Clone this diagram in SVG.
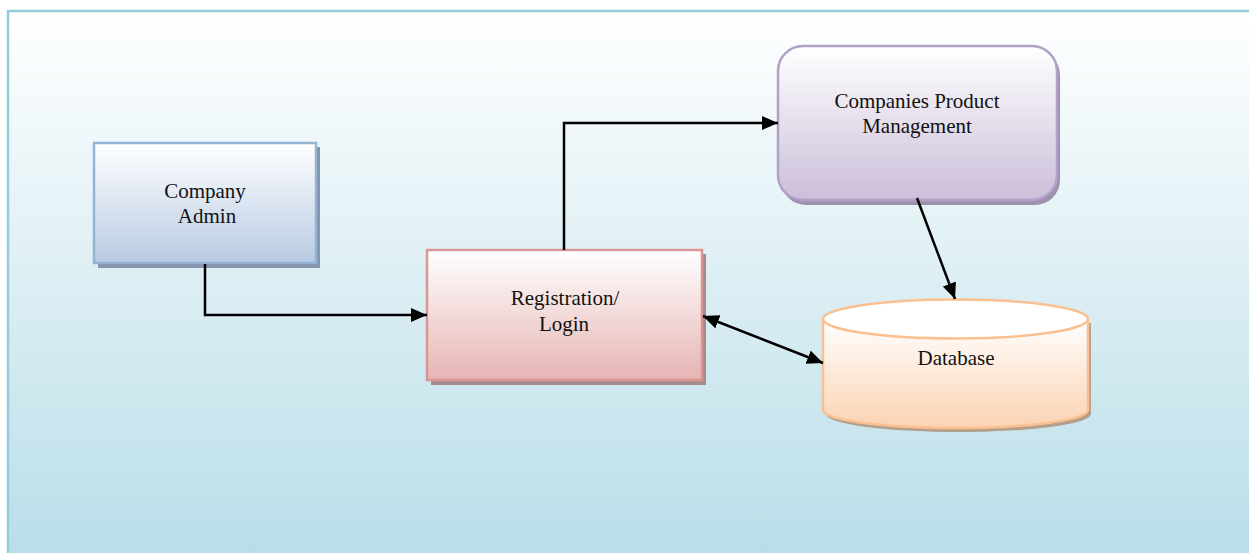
<svg xmlns="http://www.w3.org/2000/svg" width="1249" height="553" viewBox="0 0 1249 553">
  <defs>
    <linearGradient id="bg" x1="0" y1="0" x2="0" y2="1">
      <stop offset="0" stop-color="#ffffff"/>
      <stop offset="1" stop-color="#b6dce7"/>
    </linearGradient>
    <linearGradient id="gBlue" x1="0" y1="0" x2="0" y2="1">
      <stop offset="0" stop-color="#ffffff"/>
      <stop offset="1" stop-color="#b8cbe3"/>
    </linearGradient>
    <linearGradient id="gRed" x1="0" y1="0" x2="0" y2="1">
      <stop offset="0" stop-color="#ffffff"/>
      <stop offset="1" stop-color="#e6b5b4"/>
    </linearGradient>
    <linearGradient id="gPurple" x1="0" y1="0" x2="0" y2="1">
      <stop offset="0" stop-color="#ffffff"/>
      <stop offset="1" stop-color="#cbbed9"/>
    </linearGradient>
    <linearGradient id="gOrange" x1="0" y1="0" x2="0" y2="1">
      <stop offset="0" stop-color="#ffffff"/>
      <stop offset="1" stop-color="#fad3b2"/>
    </linearGradient>
    <marker id="arrow" viewBox="0 0 16 14" refX="16" refY="7" markerWidth="16" markerHeight="14" markerUnits="userSpaceOnUse" orient="auto-start-reverse">
      <path d="M0,0 L16,7 L0,14 z" fill="#000"/>
    </marker>
    <style>
      .lbl { font-family: "Liberation Serif", "Times New Roman", serif; font-size: 21px; fill: #111; text-anchor: middle; }
      .conn { fill: none; stroke: #000; stroke-width: 2.5; }
    </style>
  </defs>

  <rect x="0" y="0" width="1249" height="553" fill="#ffffff"/>
  <rect x="8" y="11" width="1270" height="570" fill="url(#bg)" stroke="#92cddc" stroke-width="2.5"/>

  <g id="company-admin">
    <rect x="98" y="147" width="222" height="121" fill="#8495ad"/>
    <rect x="94" y="143" width="222" height="120" fill="url(#gBlue)" stroke="#95b3d7" stroke-width="2.5"/>
    <text class="lbl" x="205" y="198">Company</text>
    <text class="lbl" x="207" y="223">Admin</text>
  </g>

  <g id="registration-login">
    <rect x="431" y="254" width="275" height="131" fill="#a58b8b"/>
    <rect x="427" y="250" width="275" height="130" fill="url(#gRed)" stroke="#d99694" stroke-width="2.5"/>
    <text class="lbl" x="565" y="305">Registration/</text>
    <text class="lbl" x="564" y="331">Login</text>
  </g>

  <g id="companies-product-management">
    <rect x="781" y="50" width="279" height="155" rx="25" ry="25" fill="#9d91ae"/>
    <rect x="778" y="46" width="279" height="154" rx="25" ry="25" fill="url(#gPurple)" stroke="#b2a1c7" stroke-width="2.5"/>
    <text class="lbl" x="917" y="108">Companies Product</text>
    <text class="lbl" x="917" y="133">Management</text>
  </g>

  <g id="database">
    <path d="M826,323 L826,414 A132.5,18 0 0 0 1091,414 L1091,323 Z" fill="#b39f8c"/>
    <path d="M823,319 L823,410 A132.5,18 0 0 0 1088,410 L1088,319" fill="url(#gOrange)" stroke="#fac090" stroke-width="2.5"/>
    <ellipse cx="955.5" cy="319" rx="132.5" ry="19.5" fill="#ffffff" stroke="#fac090" stroke-width="2.5"/>
    <text class="lbl" x="956" y="365">Database</text>
  </g>

  <g id="connectors">
    <polyline class="conn" points="205,264 205,315 427,315" marker-end="url(#arrow)"/>
    <polyline class="conn" points="564,250 564,123 778,123" marker-end="url(#arrow)"/>
    <line class="conn" x1="917" y1="198" x2="955" y2="299" marker-end="url(#arrow)"/>
    <line class="conn" x1="703" y1="316" x2="823" y2="363" marker-start="url(#arrow)" marker-end="url(#arrow)"/>
  </g>
</svg>
